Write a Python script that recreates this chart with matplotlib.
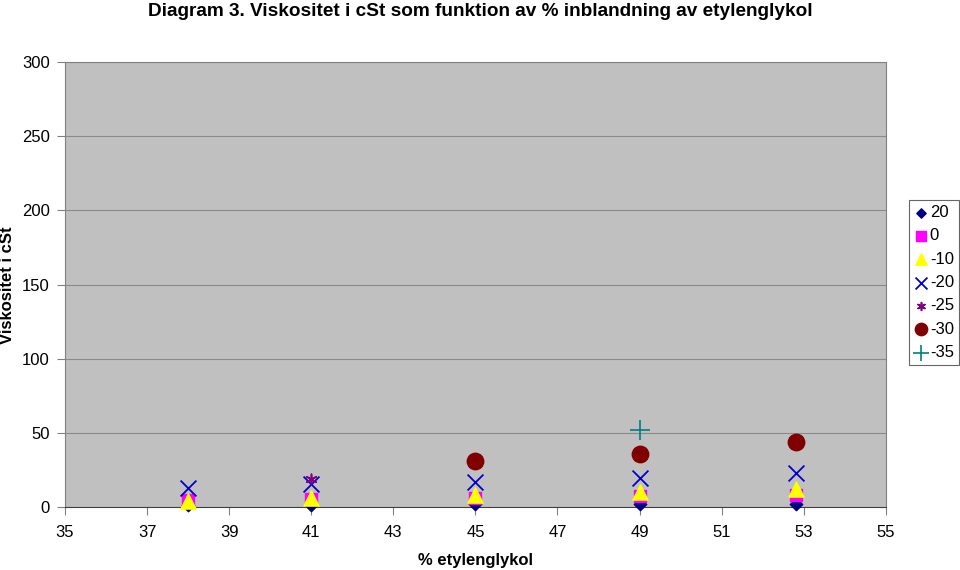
import matplotlib
matplotlib.use("Agg")
import matplotlib.pyplot as plt  # noqa: E402

plt.rcParams.update({"font.family": ["Liberation Sans", "DejaVu Sans"], "font.size": 12})

# % etylenglykol for each sample
glykol = [38, 41, 45, 49, 52.8]

# viscosity (cSt) per temperature series; None = not measured
temps = ["20", "0", "-10", "-20", "-25", "-30", "-35"]
visc_20 = [1.2, 1.5, 1.8, 2.0, 2.3]
visc_0 = [4.5, 5.5, 6.0, 7.5, 8.0]
visc_m10 = [4.0, 6.0, 8.0, 10.0, 12.0]
visc_m20 = [12.5, 15.5, 17.0, 19.5, 23.0]
visc_m25 = [None, 19.0, None, None, None]
visc_m30 = [None, None, 31.0, 36.0, 44.0]
visc_m35 = [None, None, None, 52.0, None]

x_ticks = [35, 37, 39, 41, 43, 45, 47, 49, 51, 53, 55]
y_ticks = [0, 50, 100, 150, 200, 250, 300]

series = [visc_20, visc_0, visc_m10, visc_m20, visc_m25, visc_m30, visc_m35]
styles = [
    dict(marker="D", color="#000080", s=40),
    dict(marker="s", color="#FF00FF", s=75),
    dict(marker="^", color="#FFFF00", s=120),
    dict(marker="x", color="#0000CC", s=130, linewidths=1.3),
    dict(marker=(6, 2, 0), color="#800080", s=55, linewidths=1.2),
    dict(marker="o", color="#800000", s=140),
    dict(marker="+", color="#008080", s=220, linewidths=1.2),
]

fig = plt.figure(figsize=(9.6, 5.7), dpi=100)
ax = fig.add_axes([0.0677, 0.1105, 0.855, 0.7805])
ax.set_facecolor("#C0C0C0")

for name, vals, st in zip(temps, series, styles):
    xs = [x for x, v in zip(glykol, vals) if v is not None]
    ys = [v for v in vals if v is not None]
    ax.scatter(xs, ys, label=name, zorder=3, clip_on=False, **st)

ax.set_xlim(35, 55)
ax.set_ylim(0, 300)
ax.set_xticks(x_ticks)
ax.set_yticks(y_ticks)
ax.grid(axis="y", color="#8a8a8a", linewidth=0.8, zorder=0)
ax.set_axisbelow(True)
for side in ["top", "right", "left"]:
    ax.spines[side].set_color("#808080")
ax.spines["bottom"].set_color("#404040")
ax.tick_params(axis="both", direction="out", length=6, color="#808080", labelsize=12)
ax.tick_params(axis="x", pad=7)
ax.tick_params(axis="y", pad=5)

fig.text(476 / 960, 1 - 560 / 570, "% etylenglykol", ha="center", va="center",
         fontweight="bold", fontsize=12)
fig.text(8 / 960, 1 - 285 / 570, "Viskositet i cSt", ha="center", va="center",
         rotation=90, fontweight="bold", fontsize=12)
fig.text(480 / 960, 1 - 11 / 570,
         "Diagram 3. Viskositet i cSt som funktion av % inblandning av etylenglykol",
         ha="center", va="center", fontweight="bold", fontsize=13.7)

leg = ax.legend(loc="upper left", bbox_to_anchor=(909 / 960, 1 - 200 / 570),
                bbox_transform=fig.transFigure, frameon=True, fancybox=False,
                edgecolor="#404040", handletextpad=0.15, borderpad=0.3, labelspacing=0.5,
                handlelength=0.8, fontsize=12, scatterpoints=1, markerscale=0.75,
                borderaxespad=0.0)
leg.get_frame().set_linewidth(0.8)

fig.savefig("out.png", dpi=100)
